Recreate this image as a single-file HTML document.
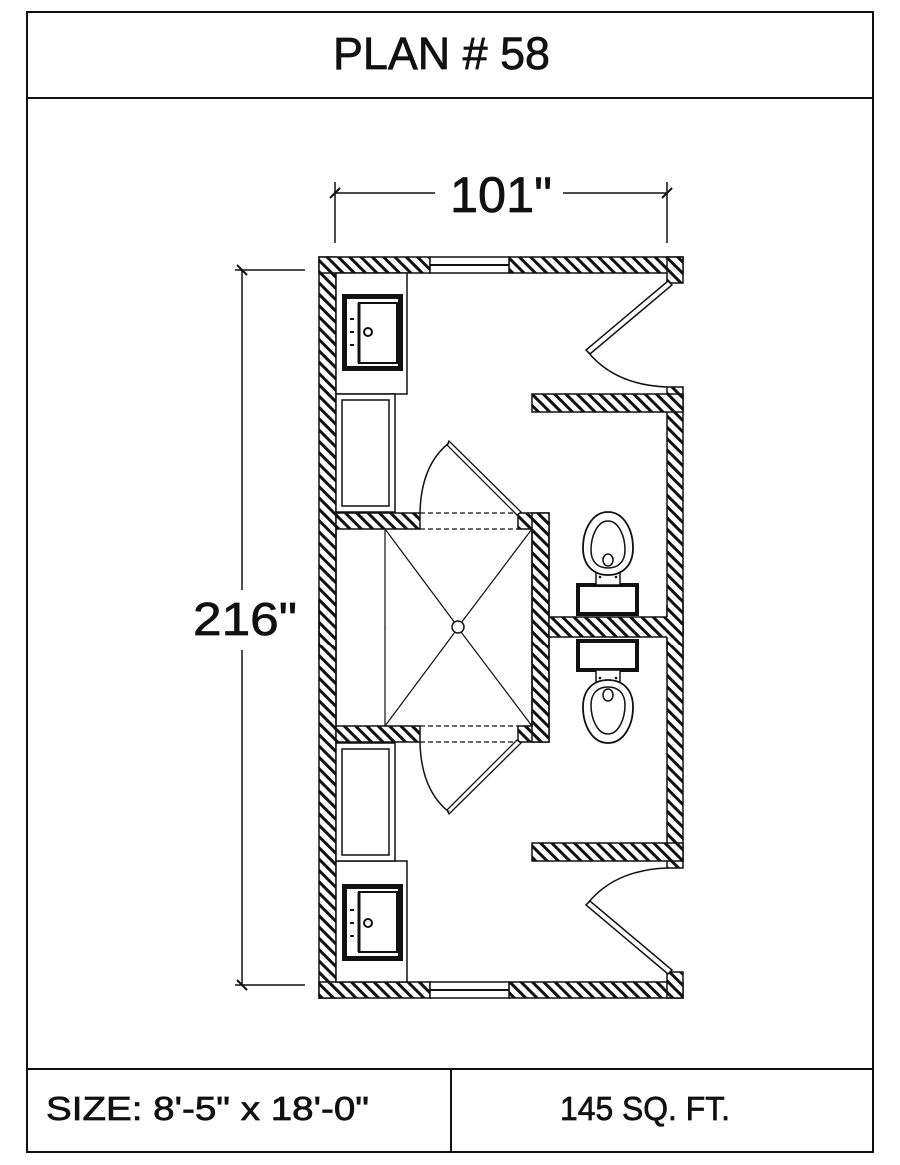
<!DOCTYPE html>
<html><head><meta charset="utf-8"><style>
html,body{margin:0;padding:0;background:#fff;}
svg{display:block;}
text{font-family:"Liberation Sans",Arial,sans-serif;fill:#111;stroke:#111;stroke-width:0.7;}
</style></head><body>
<svg width="900" height="1165" viewBox="0 0 900 1165" xmlns="http://www.w3.org/2000/svg">
<defs>
<pattern id="h" patternUnits="userSpaceOnUse" width="8" height="8" patternTransform="rotate(-45)">
<rect width="8" height="8" fill="#fff"/><rect x="0" y="0" width="3" height="8" fill="#111"/>
</pattern>
<pattern id="h2" patternUnits="userSpaceOnUse" width="8" height="8" patternTransform="rotate(45)">
<rect width="8" height="8" fill="#fff"/><rect x="0" y="0" width="3" height="8" fill="#111"/>
</pattern>
<g id="half">
  <rect x="319" y="257" width="17" height="371" stroke="#111" stroke-width="1.5"/>
  <rect x="319" y="257" width="111" height="16" stroke="#111" stroke-width="1.5"/>
  <rect x="509" y="257" width="174" height="16" stroke="#111" stroke-width="1.5"/>
  <rect x="667" y="257" width="16" height="26" stroke="#111" stroke-width="1.5"/>
  <rect x="430" y="257" width="79" height="16" fill="#fff" stroke="#111" stroke-width="1.5"/>
  <line x1="430" y1="265" x2="509" y2="265" stroke="#111" stroke-width="2"/>
  <rect x="667" y="387" width="16" height="241" stroke="#111" stroke-width="1.5"/>
  <rect x="532" y="394" width="151" height="18" stroke="#111" stroke-width="1.5"/>
  <polygon points="668,281 672,285 590,354 586,350" fill="#fff" stroke="#111" stroke-width="1.5"/>
  <path d="M588,352 Q615,385 667,387" fill="none" stroke="#111" stroke-width="1.5"/>
  <rect x="336" y="273" width="71" height="121" fill="#fff" stroke="#111" stroke-width="1.5"/>
  <rect x="342" y="294" width="61" height="77" fill="#111"/>
  <rect x="347" y="299" width="51" height="67" fill="#fff"/>
  <rect x="359" y="303" width="38" height="60" fill="#fff" stroke="#111" stroke-width="2"/>
  <line x1="359" y1="303" x2="359" y2="363" stroke="#111" stroke-width="3"/>
  <circle cx="368" cy="332" r="4" fill="#fff" stroke="#111" stroke-width="2"/>
  <rect x="350" y="318" width="4" height="2" fill="#111"/>
  <rect x="350" y="331" width="4" height="2" fill="#111"/>
  <rect x="350" y="344" width="4" height="2" fill="#111"/>
  <rect x="336" y="394" width="59" height="118" fill="#fff" stroke="#111" stroke-width="1.5"/>
  <rect x="342" y="400" width="47" height="106" fill="#fff" stroke="#111" stroke-width="1.5"/>
  <rect x="336" y="513" width="84" height="16" stroke="#111" stroke-width="1.5"/>
  <rect x="518" y="513" width="31" height="16" stroke="#111" stroke-width="1.5"/>
  <rect x="532" y="513" width="17" height="115" stroke="#111" stroke-width="1.5"/>
  <line x1="420" y1="513" x2="518" y2="513" stroke="#111" stroke-width="1.2" stroke-dasharray="5,3"/>
  <line x1="420" y1="529" x2="518" y2="529" stroke="#111" stroke-width="1.2" stroke-dasharray="5,3"/>
  <polygon points="449,441 521,512 517,515 447,445" fill="#fff" stroke="#111" stroke-width="1.3"/>
  <path d="M449,443 Q421,465 420,513" fill="none" stroke="#111" stroke-width="1.5"/>
  <line x1="385" y1="529" x2="385" y2="628" stroke="#111" stroke-width="1.2"/>
  <line x1="385" y1="529" x2="458" y2="627" stroke="#111" stroke-width="1.2"/>
  <line x1="532" y1="529" x2="458" y2="627" stroke="#111" stroke-width="1.2"/>
  <rect x="578" y="585" width="59" height="29" fill="#fff" stroke="#111" stroke-width="4"/>
  <rect x="596" y="571" width="24" height="14" fill="#fff" stroke="#111" stroke-width="1.5"/>
  <path d="M608,512 C624,512 633,530 633,548 C633,566 622,575 608,575 C594,575 583,566 583,548 C583,530 592,512 608,512 Z" fill="#fff" stroke="#111" stroke-width="1.8"/>
  <path d="M608,521 C619,521 625,537 625,550 C625,562 618,568 608,568 C598,568 591,562 591,550 C591,537 597,521 608,521 Z" fill="#fff" stroke="#111" stroke-width="1.5"/>
  <ellipse cx="608" cy="560" rx="5" ry="6" fill="#fff" stroke="#111" stroke-width="1.5"/>
  <circle cx="600" cy="577" r="1.3" fill="#111"/><circle cx="616" cy="577" r="1.3" fill="#111"/>
</g>
</defs>

<rect x="27" y="12" width="846" height="1140" fill="#fff" stroke="#111" stroke-width="2"/>
<line x1="27" y1="98" x2="873" y2="98" stroke="#111" stroke-width="2"/>
<line x1="27" y1="1069" x2="873" y2="1069" stroke="#111" stroke-width="2"/>
<line x1="451" y1="1069" x2="451" y2="1152" stroke="#111" stroke-width="2"/>
<text x="333" y="69" font-size="45" textLength="217" lengthAdjust="spacingAndGlyphs">PLAN # 58</text>
<text x="46" y="1120" font-size="33" textLength="323" lengthAdjust="spacingAndGlyphs">SIZE:  8'-5" x 18'-0"</text>
<text x="560" y="1120" font-size="33" textLength="170" lengthAdjust="spacingAndGlyphs">145 SQ. FT.</text>

<line x1="335" y1="182" x2="335" y2="243" stroke="#111" stroke-width="1.5"/>
<line x1="667" y1="182" x2="667" y2="243" stroke="#111" stroke-width="1.5"/>
<line x1="335" y1="193" x2="435" y2="193" stroke="#111" stroke-width="1.5"/>
<line x1="563" y1="193" x2="667" y2="193" stroke="#111" stroke-width="1.5"/>
<line x1="330" y1="198" x2="340" y2="188" stroke="#111" stroke-width="2"/>
<line x1="662" y1="198" x2="672" y2="188" stroke="#111" stroke-width="2"/>
<text x="450" y="212" font-size="50" textLength="102" lengthAdjust="spacingAndGlyphs">101"</text>

<line x1="235" y1="270" x2="305" y2="270" stroke="#111" stroke-width="1.5"/>
<line x1="235" y1="985" x2="305" y2="985" stroke="#111" stroke-width="1.5"/>
<line x1="242" y1="270" x2="242" y2="590" stroke="#111" stroke-width="1.5"/>
<line x1="242" y1="650" x2="242" y2="985" stroke="#111" stroke-width="1.5"/>
<line x1="237" y1="265" x2="247" y2="275" stroke="#111" stroke-width="2"/>
<line x1="237" y1="980" x2="247" y2="990" stroke="#111" stroke-width="2"/>
<text x="193" y="635" font-size="46" textLength="104" lengthAdjust="spacingAndGlyphs">216"</text>

<use href="#half" fill="url(#h)"/>
<use href="#half" fill="url(#h2)" transform="translate(0,1255) scale(1,-1)"/>
<rect x="549" y="617" width="134" height="20" fill="url(#h)" stroke="#111" stroke-width="1.5"/>
<rect x="667" y="610" width="16" height="35" fill="url(#h)"/>
<line x1="683" y1="600" x2="683" y2="660" stroke="#111" stroke-width="1.5"/>
<line x1="667" y1="637" x2="667" y2="650" stroke="#111" stroke-width="1.5"/>
<line x1="667" y1="605" x2="667" y2="617" stroke="#111" stroke-width="1.5"/>
<rect x="320" y="610" width="15" height="35" fill="url(#h)"/>
<line x1="319" y1="600" x2="319" y2="660" stroke="#111" stroke-width="1.5"/>
<line x1="336" y1="529" x2="336" y2="727" stroke="#111" stroke-width="1.5"/>
<line x1="532" y1="529" x2="532" y2="727" stroke="#111" stroke-width="1.5"/>
<rect x="533" y="610" width="15" height="35" fill="url(#h)"/>
<line x1="549" y1="529" x2="549" y2="617" stroke="#111" stroke-width="1.5"/>
<line x1="549" y1="637" x2="549" y2="727" stroke="#111" stroke-width="1.5"/>
<circle cx="458" cy="627" r="6" fill="#fff" stroke="#111" stroke-width="1.5"/>
</svg>
</body></html>
